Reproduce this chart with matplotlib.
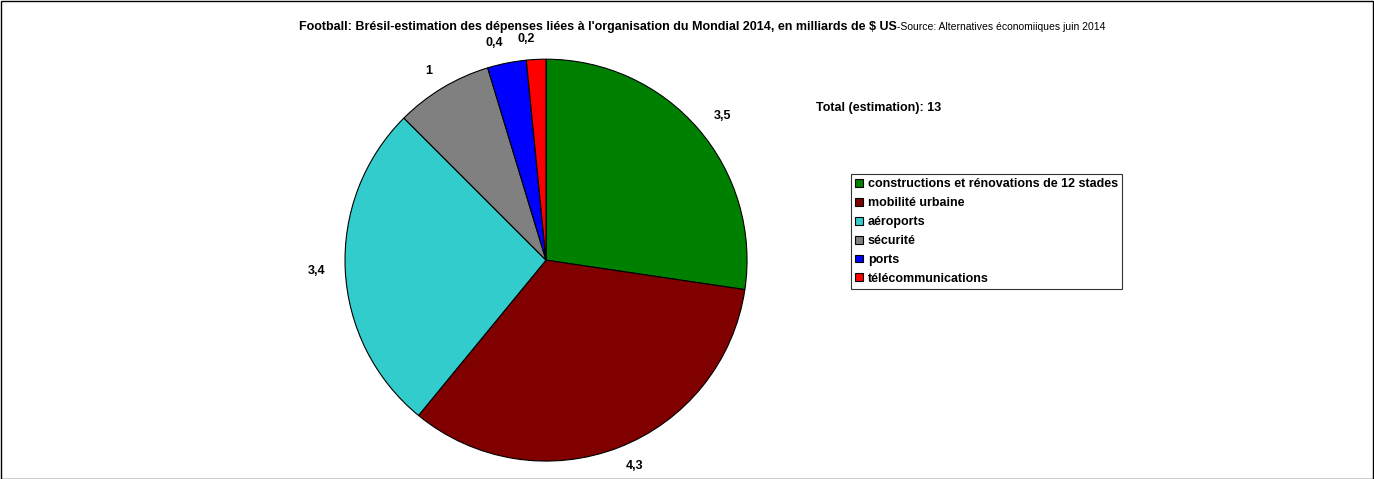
import matplotlib.pyplot as plt

categories = ["constructions et rénovations de 12 stades", "mobilité urbaine",
              "aéroports", "sécurité", "ports", "télécommunications"]
values = [3.5, 4.3, 3.4, 1, 0.4, 0.2]
labels = ["3,5", "4,3", "3,4", "1", "0,4", "0,2"]
colors = ["#008000", "#800000", "#33CCCC", "#808080", "#0000FF", "#FF0000"]

plt.rcParams["font.family"] = "Liberation Sans"

fig = plt.figure(figsize=(13.74, 4.79), dpi=100)
ax = fig.add_axes([0.2511, 0.0374, 0.2926, 0.839])
wedges, texts = ax.pie(values, labels=labels, colors=colors, startangle=90,
                       counterclock=False, labeldistance=1.1,
                       wedgeprops=dict(edgecolor="black", linewidth=0.8),
                       textprops=dict(fontsize=9, fontweight="bold"))
ax.set_aspect("auto")
ax.set_xlim(-1, 1)
ax.set_ylim(-1, 1)
for t in texts:
    t.set_clip_on(False)

fig.text(897 / 1374, 1 - 27 / 479, "Football: Brésil-estimation des dépenses liées à l'organisation du Mondial 2014, en milliards de $ US",
         ha="right", va="center", fontsize=9, fontweight="bold")
fig.text(897 / 1374, 1 - 27 / 479, "-Source: Alternatives économiiques juin 2014",
         ha="left", va="center", fontsize=7.5)
fig.text(816 / 1374, 1 - 108 / 479, "Total (estimation): 13", ha="left", va="center",
         fontsize=9, fontweight="bold")

leg = fig.legend(wedges, categories, loc="upper left",
                 bbox_to_anchor=(851 / 1374, 1 - 174 / 479), frameon=True,
                 fancybox=False, edgecolor="black", handlelength=0.6,
                 handleheight=0.6, handletextpad=0.4, labelspacing=0.55,
                 borderpad=0.35, borderaxespad=0, prop=dict(size=9, weight="bold"))
leg.get_frame().set_linewidth(0.8)

fig.patches.append(plt.Rectangle((0.0005, 0.001), 0.999, 0.997, transform=fig.transFigure,
                                 fill=False, edgecolor="black", linewidth=1))
fig.savefig("out.png", dpi=100)
